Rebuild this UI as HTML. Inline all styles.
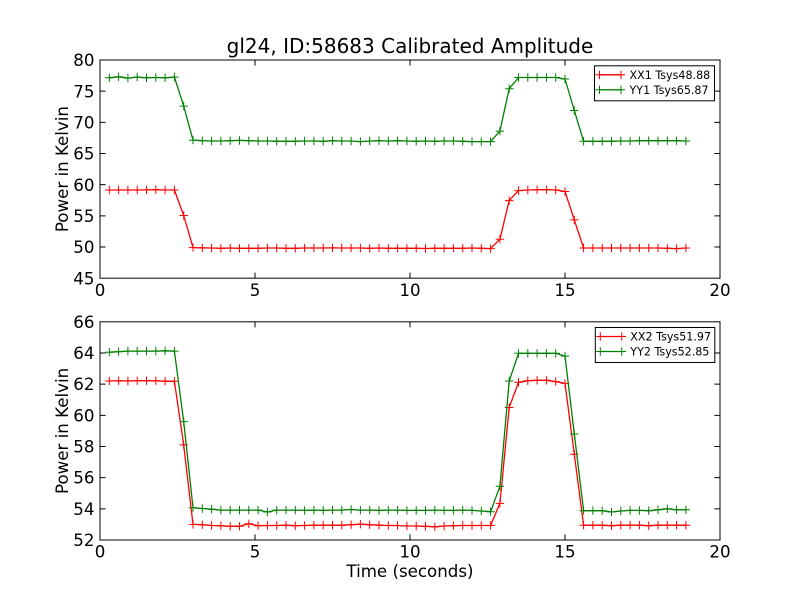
<!DOCTYPE html>
<html>
<head>
<meta charset="utf-8">
<style>
  html, body { margin: 0; padding: 0; background: #ffffff; }
  svg { display: block; }
  text { font-family: "DejaVu Sans", "Liberation Sans", sans-serif; fill: #000; }
</style>
</head>
<body>
<svg width="800" height="600" viewBox="0 0 800 600" xmlns="http://www.w3.org/2000/svg">
  <defs>
    <marker id="pr" markerWidth="10" markerHeight="10" refX="5" refY="5" markerUnits="userSpaceOnUse" overflow="visible">
      <path d="M0.8 5H9.2M5 0.8V9.2" stroke="#ff0000" stroke-width="1" fill="none"/>
    </marker>
    <marker id="pg" markerWidth="10" markerHeight="10" refX="5" refY="5" markerUnits="userSpaceOnUse" overflow="visible">
      <path d="M0.8 5H9.2M5 0.8V9.2" stroke="#008000" stroke-width="1" fill="none"/>
    </marker>
  </defs>
  <rect x="0" y="0" width="800" height="600" fill="#ffffff"/>

  <!-- Title -->
  <text x="410" y="53" font-size="20" text-anchor="middle">gl24, ID:58683 Calibrated Amplitude</text>

  <!-- ================= TOP AXES ================= -->
  <rect x="100" y="60" width="620" height="218.18" fill="#ffffff"/>

  <polyline fill="none" stroke="#ff0000" stroke-width="1.3" stroke-linejoin="round" marker-start="url(#pr)" marker-mid="url(#pr)" marker-end="url(#pr)"
    points="109.3,190.0 118.6,190.0 127.9,190.0 137.2,190.0 146.5,189.9 155.8,189.7 165.1,190.0 174.4,190.0 183.7,215.5 193,247.6 202.3,247.9 211.6,248.0 220.9,248.3 230.2,248.0 239.5,248.3 248.8,248.3 258.1,248.3 267.4,248.0 276.7,248.0 286,248.3 295.3,248.3 304.6,248.0 313.9,248.0 323.2,248.0 332.5,247.9 341.8,248.0 351.1,248.0 360.4,248.0 369.7,248.3 379,248.0 388.3,248.3 397.6,248.3 406.9,248.3 416.2,248.3 425.5,248.5 434.8,248.3 444.1,248.3 453.4,248.3 462.7,248.3 472,248.0 481.3,248.3 490.6,248.6 499.9,239.2 509.2,200.6 518.5,190.6 527.8,190.0 537.1,189.7 546.4,189.7 555.7,190.0 565,191.5 574.3,219.9 583.6,248.0 592.9,248.0 602.2,248.0 611.5,248.0 620.8,248.0 630.1,248.0 639.4,248.0 648.7,248.0 658,248.0 667.3,248.3 676.6,248.6 685.9,248.0"/>

  <polyline fill="none" stroke="#008000" stroke-width="1.3" stroke-linejoin="round" marker-start="url(#pg)" marker-mid="url(#pg)" marker-end="url(#pg)"
    points="109.3,77.8 118.6,76.8 127.9,78.1 137.2,77.1 146.5,77.8 155.8,77.5 165.1,77.8 174.4,77.1 183.7,106.1 193,140.1 202.3,140.7 211.6,141.0 220.9,141.0 230.2,140.7 239.5,140.4 248.8,140.7 258.1,141.0 267.4,141.0 276.7,141.3 286,141.3 295.3,141.3 304.6,141.0 313.9,141.0 323.2,141.3 332.5,140.7 341.8,141.0 351.1,141.0 360.4,141.6 369.7,141.0 379,140.7 388.3,141.0 397.6,140.7 406.9,141.0 416.2,141.3 425.5,141.0 434.8,141.3 444.1,141.0 453.4,141.0 462.7,141.3 472,141.6 481.3,141.6 490.6,141.6 499.9,131.1 509.2,88.7 518.5,77.5 527.8,77.5 537.1,77.5 546.4,77.5 555.7,77.5 565,79.0 574.3,110.5 583.6,141.3 592.9,141.3 602.2,141.3 611.5,141.3 620.8,141.0 630.1,141.0 639.4,140.7 648.7,140.7 658,140.7 667.3,140.7 676.6,140.7 685.9,141.0"/>

  <!-- ticks top axes -->
  <path fill="none" stroke="#000" stroke-width="1"
    d="M255 278.18V272.6M410 278.18V272.6M565 278.18V272.6
       M255 60V65.6M410 60V65.6M565 60V65.6
       M100 91.17H105.6M100 122.34H105.6M100 153.51H105.6M100 184.68H105.6M100 215.85H105.6M100 247.01H105.6
       M720 91.17H714.4M720 122.34H714.4M720 153.51H714.4M720 184.68H714.4M720 215.85H714.4M720 247.01H714.4"/>
  <rect x="100" y="60" width="620" height="218.18" fill="none" stroke="#000" stroke-width="1"/>

  <!-- y tick labels top -->
  <g font-size="16.67" text-anchor="end">
    <text x="94.5" y="66.1">80</text>
    <text x="94.5" y="97.3">75</text>
    <text x="94.5" y="128.4">70</text>
    <text x="94.5" y="159.6">65</text>
    <text x="94.5" y="190.8">60</text>
    <text x="94.5" y="221.9">55</text>
    <text x="94.5" y="253.1">50</text>
    <text x="94.5" y="284.3">45</text>
  </g>
  <!-- x tick labels top -->
  <g font-size="16.67" text-anchor="middle">
    <text x="100" y="296">0</text>
    <text x="255" y="296">5</text>
    <text x="410" y="296">10</text>
    <text x="565" y="296">15</text>
    <text x="720" y="296">20</text>
  </g>
  <text font-size="16.67" text-anchor="middle" transform="translate(68,169.1) rotate(-90)">Power in Kelvin</text>

  <!-- legend top -->
  <rect x="594.5" y="65.8" width="120" height="35" fill="#ffffff" stroke="#000" stroke-width="1"/>
  <line x1="599.5" y1="74.8" x2="621" y2="74.8" stroke="#ff0000" stroke-width="1.3" marker-start="url(#pr)" marker-end="url(#pr)"/>
  <line x1="599.5" y1="89.8" x2="621" y2="89.8" stroke="#008000" stroke-width="1.3" marker-start="url(#pg)" marker-end="url(#pg)"/>
  <text x="629.5" y="78.8" font-size="11.11">XX1 Tsys48.88</text>
  <text x="629.5" y="93.8" font-size="11.11">YY1 Tsys65.87</text>

  <!-- ================= BOTTOM AXES ================= -->
  <rect x="100" y="321.82" width="620" height="218.18" fill="#ffffff"/>

  <polyline fill="none" stroke="#ff0000" stroke-width="1.3" stroke-linejoin="round" marker-start="url(#pr)" marker-mid="url(#pr)" marker-end="url(#pr)"
    points="109.3,381.0 118.6,380.7 127.9,381.0 137.2,380.7 146.5,380.7 155.8,380.7 165.1,381.3 174.4,381.3 183.7,444.9 193,524.4 202.3,524.7 211.6,525.5 220.9,525.7 230.2,526.3 239.5,526.3 248.8,523.8 258.1,525.7 267.4,525.5 276.7,525.5 286,525.2 295.3,525.7 304.6,525.5 313.9,525.2 323.2,525.2 332.5,525.2 341.8,525.2 351.1,524.7 360.4,524.2 369.7,524.7 379,525.2 388.3,525.5 397.6,525.5 406.9,526.0 416.2,526.0 425.5,526.3 434.8,526.8 444.1,526.0 453.4,525.7 462.7,525.5 472,525.5 481.3,525.5 490.6,525.5 499.9,503.4 509.2,407.5 518.5,382.3 527.8,380.7 537.1,380.3 546.4,380.3 555.7,381.6 565,383.4 574.3,454.3 583.6,525.2 592.9,525.2 602.2,525.2 611.5,525.7 620.8,525.2 630.1,525.2 639.4,525.2 648.7,525.7 658,525.2 667.3,525.2 676.6,525.2 685.9,525.2"/>

  <polyline fill="none" stroke="#008000" stroke-width="1.3" stroke-linejoin="round" marker-start="url(#pg)" marker-mid="url(#pg)" marker-end="url(#pg)"
    points="109.3,352.2 118.6,351.7 127.9,351.1 137.2,351.1 146.5,351.1 155.8,351.1 165.1,350.8 174.4,351.1 183.7,421.6 193,507.7 202.3,508.5 211.6,509.2 220.9,510.1 230.2,510.1 239.5,510.1 248.8,510.1 258.1,510.1 267.4,512.0 276.7,510.1 286,510.1 295.3,510.1 304.6,510.4 313.9,510.1 323.2,510.4 332.5,510.1 341.8,510.1 351.1,509.5 360.4,510.1 369.7,510.1 379,510.4 388.3,510.1 397.6,510.1 406.9,510.4 416.2,510.4 425.5,510.4 434.8,510.1 444.1,510.4 453.4,510.4 462.7,510.1 472,510.4 481.3,511.0 490.6,511.7 499.9,486.2 509.2,381.0 518.5,353.3 527.8,353.3 537.1,353.3 546.4,353.3 555.7,353.3 565,356.1 574.3,434.0 583.6,510.7 592.9,510.7 602.2,510.7 611.5,512.0 620.8,511.0 630.1,510.4 639.4,510.4 648.7,510.7 658,509.8 667.3,508.8 676.6,509.8 685.9,509.8"/>

  <!-- ticks bottom axes -->
  <path fill="none" stroke="#000" stroke-width="1"
    d="M255 540V534.4M410 540V534.4M565 540V534.4
       M255 321.82V327.4M410 321.82V327.4M565 321.82V327.4
       M100 353.0H105.6M100 384.16H105.6M100 415.32H105.6M100 446.49H105.6M100 477.66H105.6M100 508.83H105.6
       M720 353.0H714.4M720 384.16H714.4M720 415.32H714.4M720 446.49H714.4M720 477.66H714.4M720 508.83H714.4"/>
  <rect x="100" y="321.82" width="620" height="218.18" fill="none" stroke="#000" stroke-width="1"/>

  <!-- y tick labels bottom -->
  <g font-size="16.67" text-anchor="end">
    <text x="94.5" y="327.9">66</text>
    <text x="94.5" y="359.1">64</text>
    <text x="94.5" y="390.2">62</text>
    <text x="94.5" y="421.4">60</text>
    <text x="94.5" y="452.6">58</text>
    <text x="94.5" y="483.7">56</text>
    <text x="94.5" y="514.9">54</text>
    <text x="94.5" y="546.1">52</text>
  </g>
  <!-- x tick labels bottom -->
  <g font-size="16.67" text-anchor="middle">
    <text x="100" y="557.6">0</text>
    <text x="255" y="557.6">5</text>
    <text x="410" y="557.6">10</text>
    <text x="565" y="557.6">15</text>
    <text x="720" y="557.6">20</text>
  </g>
  <text font-size="16.67" text-anchor="middle" transform="translate(68,430.9) rotate(-90)">Power in Kelvin</text>
  <text x="410" y="577" font-size="16.67" text-anchor="middle">Time (seconds)</text>

  <!-- legend bottom -->
  <rect x="595.3" y="327.5" width="119.5" height="35" fill="#ffffff" stroke="#000" stroke-width="1"/>
  <line x1="600.3" y1="336.5" x2="621.8" y2="336.5" stroke="#ff0000" stroke-width="1.3" marker-start="url(#pr)" marker-end="url(#pr)"/>
  <line x1="600.3" y1="351.5" x2="621.8" y2="351.5" stroke="#008000" stroke-width="1.3" marker-start="url(#pg)" marker-end="url(#pg)"/>
  <text x="630.3" y="340.5" font-size="11.11">XX2 Tsys51.97</text>
  <text x="630.3" y="355.5" font-size="11.11">YY2 Tsys52.85</text>
</svg>
</body>
</html>
